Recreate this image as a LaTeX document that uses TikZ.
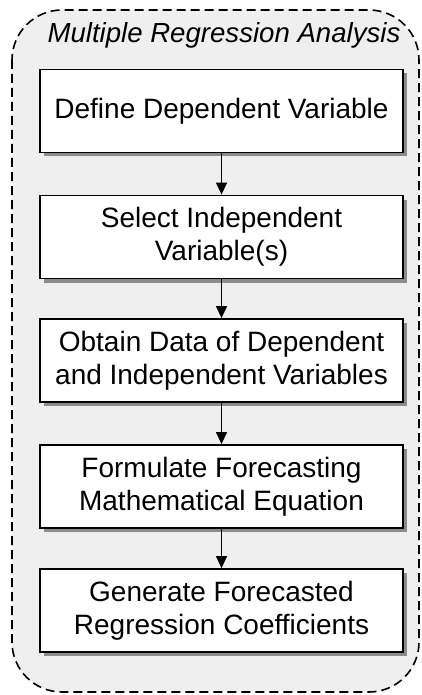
\documentclass[tikz,border=0pt]{standalone}
\usepackage{fontspec}
\setmainfont{Liberation Sans}
\usetikzlibrary{arrows.meta,shadows}
\definecolor{panelgray}{RGB}{239,239,239}
\begin{document}
\begin{tikzpicture}[x=1pt,y=1pt,
  stepbox/.style={draw=black,line width=1.8pt,fill=white,minimum width=363pt,minimum height=83pt,
    align=center,inner sep=0pt,font=\fontsize{28}{33}\selectfont,
    drop shadow={shadow xshift=4pt,shadow yshift=-4pt,fill=black!45,opacity=1}},
  link/.style={line width=1.3pt,-{Triangle[length=12pt,width=11pt]}},
  panel/.style={draw=black,line width=1.6pt,dash pattern=on 9pt off 5pt,fill=panelgray,rounded corners=50pt}]
\useasboundingbox (0,0) rectangle (422,-695);
\draw[panel] (12,-10) rectangle (419,-692);
\node[anchor=base,font=\fontsize{27.6}{33}\selectfont\itshape] (title) at (224,-43) {Multiple Regression Analysis};
\node[stepbox] (s1) at (221.5,-111) {Define Dependent Variable};
\node[stepbox] (s2) at (221.5,-237) {Select Independent\\Variable(s)};
\node[stepbox] (s3) at (221.5,-360.5) {Obtain Data of Dependent\\and Independent Variables};
\node[stepbox] (s4) at (221.5,-486.5) {Formulate Forecasting\\Mathematical Equation};
\node[stepbox] (s5) at (221.5,-610.5) {Generate Forecasted\\Regression Coefficients};
\draw[link] (s1) -- (s2);
\draw[link] (s2) -- (s3);
\draw[link] (s3) -- (s4);
\draw[link] (s4) -- (s5);
\end{tikzpicture}
\end{document}
